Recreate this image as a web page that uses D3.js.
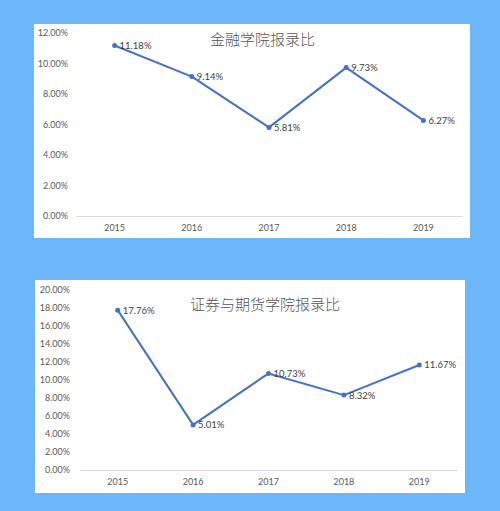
<!DOCTYPE html>
<meta charset="utf-8">
<style>
    body { margin: 0; background: #6cb6fa; }
    svg { display: block; }
    .axis text { font-family: Lato, "Open Sans", sans-serif; font-size: 9px; fill: #595959; }
    .label { font-family: Lato, "Open Sans", sans-serif; font-size: 9.5px; fill: #404040; }
    .title { font-family: "Noto Sans CJK SC", sans-serif; font-size: 15px; font-weight: 300; fill: #555; }
</style>

<svg width="500" height="511"></svg>

<script src="https://cdn.jsdelivr.net/npm/d3@7"></script>
<script>
    var years = ["2015", "2016", "2017", "2018", "2019"];
    var financeValues = [11.18, 9.14, 5.81, 9.73, 6.27];
    var securitiesValues = [17.76, 5.01, 10.73, 8.32, 11.67];
    var financeTicks = [0, 2, 4, 6, 8, 10, 12];
    var securitiesTicks = [0, 2, 4, 6, 8, 10, 12, 14, 16, 18, 20];
    var financeTitle = "金融学院报录比";
    var securitiesTitle = "证券与期货学院报录比";

    var svg = d3.select("svg");

    // one white card with a line chart inside
    function panel(opt) {
        var g = svg.append("g");

        g.append("rect")
            .attr("x", opt.box[0]).attr("y", opt.box[1])
            .attr("width", opt.box[2]).attr("height", opt.box[3])
            .attr("fill", "#fff");

        var x = d3.scaleBand().domain(years).range([opt.x0, opt.x1]),
            y = d3.scaleLinear().domain([0, d3.max(opt.ticks)]).range([opt.y0, opt.y1]);

        // y axis labels, no line
        var ya = g.append("g").attr("class", "axis")
            .attr("transform", "translate(" + opt.x0 + ",0)")
            .call(d3.axisLeft(y).tickValues(opt.ticks).tickSize(0).tickPadding(opt.x0 - opt.labelRight)
                .tickFormat(function (d) { return d.toFixed(2) + "%"; }));
        ya.select(".domain").remove();

        // baseline + year labels
        var xa = g.append("g").attr("class", "axis")
            .attr("transform", "translate(0," + opt.y0 + ")")
            .call(d3.axisBottom(x).tickSize(0).tickPadding(9));
        xa.select(".domain").attr("stroke", "#d9d9d9").attr("stroke-width", 1);

        var line = d3.line()
            .x(function (d, i) { return x(years[i]) + x.bandwidth() / 2; })
            .y(function (d) { return y(d); });

        g.append("path")
            .datum(opt.values)
            .attr("d", line)
            .attr("fill", "none")
            .attr("stroke", "#4472c4")
            .attr("stroke-width", 2)
            .attr("stroke-linejoin", "round");

        g.selectAll("circle")
            .data(opt.values)
            .enter().append("circle")
            .attr("cx", function (d, i) { return x(years[i]) + x.bandwidth() / 2; })
            .attr("cy", function (d) { return y(d); })
            .attr("r", 2.5)
            .attr("fill", "#4472c4");

        g.selectAll(".label")
            .data(opt.values)
            .enter().append("text")
            .attr("class", "label")
            .attr("x", function (d, i) { return x(years[i]) + x.bandwidth() / 2 + 5; })
            .attr("y", function (d) { return y(d) + 3.5; })
            .text(function (d) { return d.toFixed(2) + "%"; });

        g.append("text")
            .attr("class", "title")
            .attr("x", opt.titleX)
            .attr("y", opt.titleY)
            .text(opt.title);
    }

    panel({
        box: [34, 24, 436, 214],
        x0: 76, x1: 462, y0: 216, y1: 33,
        labelRight: 68,
        ticks: financeTicks,
        values: financeValues,
        title: financeTitle,
        titleX: 210, titleY: 45
    });

    panel({
        box: [35, 280, 430, 213],
        x0: 80, x1: 457, y0: 470, y1: 290,
        labelRight: 70,
        ticks: securitiesTicks,
        values: securitiesValues,
        title: securitiesTitle,
        titleX: 190, titleY: 310
    });
</script>
